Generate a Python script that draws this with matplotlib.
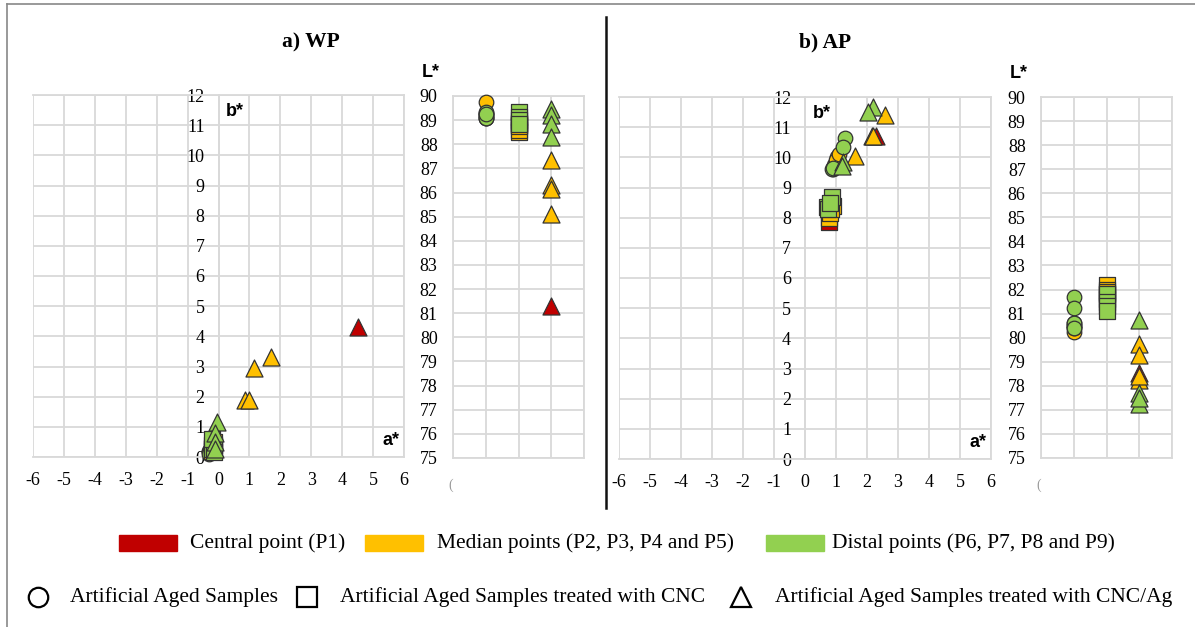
import matplotlib.pyplot as plt
from matplotlib.patches import Rectangle
from matplotlib.lines import Line2D

plt.rcParams['font.family'] = ['Liberation Serif', 'DejaVu Serif']
plt.rcParams['axes.unicode_minus'] = False

RED = "#C00000"
ORANGE = "#FFC000"
GREEN = "#92D050"

# colour of each point P1..P9
point_colors = [RED, ORANGE, ORANGE, ORANGE, ORANGE, GREEN, GREEN, GREEN, GREEN]

# ---- a) WP ----
wp_circle_a = [-0.3, -0.25, -0.3, -0.2, -0.25, -0.2, -0.25, -0.3, -0.2]
wp_circle_b = [0.2, 0.3, 0.15, 0.4, 0.25, 0.35, 0.2, 0.1, 0.3]
wp_circle_L = [89.1, 89.75, 89.2, 89.1, 89.3, 89.35, 89.2, 89.1, 89.25]

wp_square_a = [-0.2, -0.15, -0.2, -0.15, -0.2, -0.15, -0.2, -0.15, -0.2]
wp_square_b = [0.3, 0.5, 0.4, 0.35, 0.2, 0.4, 0.25, 0.15, 0.6]
wp_square_L = [88.8, 88.5, 88.6, 88.75, 88.9, 89.35, 89.15, 89.0, 88.85]

wp_tri_a = [4.5, 1.7, 1.15, 0.85, 1.0, -0.05, -0.1, -0.1, -0.1]
wp_tri_b = [4.3, 3.3, 2.95, 1.9, 1.9, 1.15, 0.8, 0.5, 0.25]
wp_tri_L = [81.3, 87.35, 86.3, 86.15, 85.1, 89.45, 89.2, 88.85, 88.3]

# ---- b) AP ----
ap_circle_a = [0.9, 1.03, 0.95, 1.0, 1.1, 1.29, 1.23, 0.87, 0.9]
ap_circle_b = [9.6, 10.0, 9.75, 9.9, 10.1, 10.65, 10.35, 9.6, 9.65]
ap_circle_L = [80.5, 80.25, 80.4, 80.5, 80.6, 81.7, 81.25, 80.6, 80.4]

ap_square_a = [0.77, 0.77, 0.8, 0.9, 0.85, 0.87, 0.71, 0.75, 0.8]
ap_square_b = [7.85, 8.0, 8.15, 8.4, 8.3, 8.7, 8.35, 8.3, 8.5]
ap_square_L = [81.6, 82.2, 82.0, 81.9, 81.8, 81.8, 81.5, 81.3, 81.1]

ap_tri_a = [2.3, 2.58, 2.16, 1.6, 2.2, 2.19, 2.03, 1.22, 1.2]
ap_tri_b = [10.7, 11.4, 10.7, 10.05, 10.72, 11.67, 11.5, 9.85, 9.7]
ap_tri_L = [78.55, 79.75, 79.3, 78.25, 78.4, 80.75, 77.7, 77.25, 77.5]

GRID = "#D9D9D9"
EDGE = "#333333"
SIZES = {"o": 110, "s": 130, "^": 150}
TICK_FS = 13


def scatter_points(ax, xs, ys, marker):
    for x, y, c in zip(xs, ys, point_colors):
        ax.scatter(x, y, s=SIZES[marker], marker=marker, color=c,
                   edgecolors=EDGE, linewidths=0.9, zorder=3, clip_on=False)


def setup_ab(ax):
    ax.set_xlim(-6, 6)
    ax.set_ylim(0, 12)
    ax.set_xticks(range(-6, 7))
    ax.set_yticks(range(0, 13))
    ax.grid(True, color=GRID, linewidth=1.3)
    ax.set_axisbelow(True)
    for sp in ax.spines.values():
        sp.set_color(GRID)
        sp.set_linewidth(1.3)
    ax.spines['left'].set_position(('data', 0))
    ax.tick_params(axis='both', length=0, labelsize=TICK_FS)
    ax.tick_params(axis='y', pad=10)
    ax.tick_params(axis='x', pad=11)
    ax.text(0.25, 11.45, "b*", family="Liberation Sans", fontweight="bold",
            fontsize=13, va="center", ha="left")
    ax.text(5.85, 0.55, "a*", family="Liberation Sans", fontweight="bold",
            fontsize=13, va="center", ha="right")


def setup_L(ax):
    ax.set_xlim(0, 4)
    ax.set_ylim(75, 90)
    ax.set_xticks(range(0, 5))
    ax.set_xticklabels([])
    ax.set_yticks(range(75, 91))
    ax.grid(True, color=GRID, linewidth=1.3)
    ax.set_axisbelow(True)
    for sp in ax.spines.values():
        sp.set_color(GRID)
        sp.set_linewidth(1.3)
    ax.tick_params(axis='both', length=0, labelsize=TICK_FS)
    ax.tick_params(axis='y', pad=11)
    ax.text(-0.17, 1.065, "L*", transform=ax.transAxes,
            family="Liberation Sans", fontweight="bold", fontsize=13,
            va="center", ha="center")
    ax.text(-0.02, -0.075, "(", transform=ax.transAxes, color="#999999",
            fontsize=10, ha="center", va="center")


fig = plt.figure(figsize=(11.95, 6.27), dpi=100)
W, H = 1195, 627


def add_axes_px(x0, y0, x1, y1):
    return fig.add_axes([x0 / W, 1 - y1 / H, (x1 - x0) / W, (y1 - y0) / H])


ax1 = add_axes_px(33, 95, 404, 457)
ax2 = add_axes_px(453, 96, 584, 458)
ax3 = add_axes_px(619, 97, 991, 459)
ax4 = add_axes_px(1041, 97, 1172, 458)

for ax in (ax1, ax3):
    setup_ab(ax)
for ax in (ax2, ax4):
    setup_L(ax)

panels = [
    (ax1, ax2, [(wp_circle_a, wp_circle_b, wp_circle_L, "o"),
                (wp_square_a, wp_square_b, wp_square_L, "s"),
                (wp_tri_a, wp_tri_b, wp_tri_L, "^")]),
    (ax3, ax4, [(ap_circle_a, ap_circle_b, ap_circle_L, "o"),
                (ap_square_a, ap_square_b, ap_square_L, "s"),
                (ap_tri_a, ap_tri_b, ap_tri_L, "^")]),
]
for ax_ab, ax_L, groups in panels:
    for col, (a, b, L, m) in enumerate(groups, start=1):
        scatter_points(ax_ab, a, b, m)
        scatter_points(ax_L, [col] * len(L), L, m)

# titles
fig.text(311 / W, 1 - 42 / H, "a) WP", fontsize=15.5, fontweight="bold",
         ha="center", va="center")
fig.text(825 / W, 1 - 42 / H, "b) AP", fontsize=15.5, fontweight="bold",
         ha="center", va="center")

# frame and divider
fig.add_artist(Line2D([7 / W, 1], [1 - 4 / H, 1 - 4 / H], color="#888888", lw=1.2))
fig.add_artist(Line2D([7 / W, 7 / W], [0, 1 - 4 / H], color="#888888", lw=1.2))
fig.add_artist(Line2D([606 / W, 606 / W], [1 - 17 / H, 1 - 508 / H], color="#111111", lw=1.8))

# legend row 1: colour patches
legend_colors = [RED, ORANGE, GREEN]
legend_labels = ["Central point (P1)", "Median points (P2, P3, P4 and P5)",
                 "Distal points (P6, P7, P8 and P9)"]
patch_x = [119, 365, 766]
text_x = [190, 437, 832]
row1_y = 543
for c, lab, px, tx in zip(legend_colors, legend_labels, patch_x, text_x):
    fig.add_artist(Rectangle((px / W, 1 - (row1_y + 8) / H), 58 / W, 16 / H,
                             color=c, transform=fig.transFigure))
    fig.text(tx / W, 1 - row1_y / H, lab, fontsize=15.5, ha="left", va="center")

# legend row 2: marker shapes
shape_markers = ["o", "s", "^"]
shape_labels = ["Artificial Aged Samples", "Artificial Aged Samples treated with CNC",
                "Artificial Aged Samples treated with CNC/Ag"]
marker_x = [38, 307, 741]
label_x = [70, 340, 775]
row2_y = 597
for m, lab, mx, tx in zip(shape_markers, shape_labels, marker_x, label_x):
    fig.add_artist(Line2D([mx / W], [1 - row2_y / H], marker=m, markersize=14,
                          markerfacecolor="white", markeredgecolor="black",
                          markeredgewidth=1.6, linestyle="none"))
    fig.text(tx / W, 1 - row2_y / H, lab, fontsize=15.5, ha="left", va="center")

fig.savefig("out.png", dpi=100)
